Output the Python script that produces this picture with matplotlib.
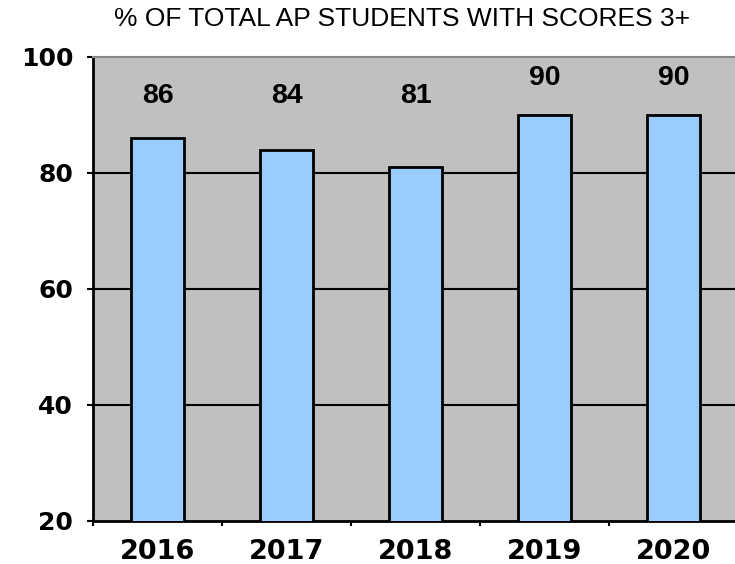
import matplotlib
matplotlib.use("Agg")
import matplotlib.pyplot as plt
import numpy as np

years = ["2016", "2017", "2018", "2019", "2020"]
values = [86, 84, 81, 90, 90]
title = "% OF TOTAL AP STUDENTS WITH SCORES 3+"
yticks = [20, 40, 60, 80, 100]

plt.rcParams['font.family'] = ['Liberation Sans', 'DejaVu Sans']

fig = plt.figure(figsize=(7.35, 5.64), dpi=100)
ax = fig.add_axes([93/735, 43/564, 645/735, 464/564])
ax.set_facecolor('#C0C0C0')

x = np.arange(len(years))
ax.bar(x, values, width=0.41, color='#99CCFF', edgecolor='black', linewidth=2, zorder=3)

ax.set_xlim(-0.5, len(years) - 0.5)
ax.set_ylim(20, 100)
ax.set_yticks(yticks)
ax.set_yticklabels([str(t) for t in yticks], fontsize=18, fontweight='bold',
                   family='DejaVu Sans')
for t in [40, 60, 80]:
    ax.axhline(t, color='black', linewidth=1.5, zorder=1)

ax.set_xticks(x)
ax.set_xticklabels(years, fontsize=19.5, fontweight='bold', family='DejaVu Sans')
ax.tick_params(axis='x', length=0, pad=13)
ax.set_xticks(np.arange(len(years)) - 0.5, minor=True)
ax.tick_params(axis='x', which='minor', length=3.6, width=1.5, direction='out')
ax.tick_params(axis='y', length=4.3, width=1.5, direction='out', pad=10)

for s in ['left', 'bottom']:
    ax.spines[s].set_linewidth(2)
    ax.spines[s].set_color('black')
ax.spines['top'].set_color('#888888')
ax.spines['top'].set_linewidth(1.5)
ax.spines['right'].set_visible(False)

for xi, v in zip(x, values):
    ax.text(xi, max(v, 87) + 6.3, str(v), ha='center', va='center', fontsize=20.5,
            fontweight='bold', zorder=4)

fig.text(402/735, 1 - 19.5/564, title, ha='center', va='center', fontsize=19)

fig.savefig("out.png", dpi=100)
